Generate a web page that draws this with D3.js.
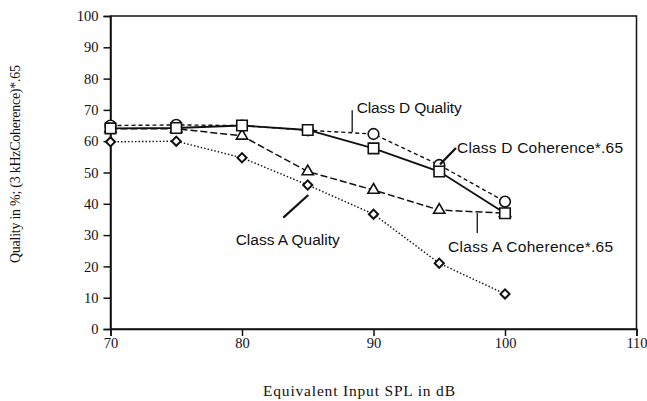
<!DOCTYPE html>
<html>
<head>
<meta charset="utf-8">
<script src="https://cdn.jsdelivr.net/npm/d3@7"></script>
<style>
  html, body { margin: 0; padding: 0; background: #fff; }
  svg { display: block; }
</style>
</head>
<body>
<svg id="chart" width="647" height="401"></svg>
<script>
// Input level (dB SPL) at which each measurement was taken
const splLevels = [70, 75, 80, 85, 90, 95, 100];

// Series values (percent)
const classDQuality   = [65.0, 65.2, 65.0, 63.5, 62.3, 52.4, 40.7];
const classDCoherence = [64.1, 64.2, 65.0, 63.6, 57.7, 50.3, 37.0];
const classACoherence = [64.0, 64.0, 61.7, 50.3, 44.4, 38.0, 37.0];
const classAQuality   = [59.8, 60.0, 54.7, 46.0, 36.7, 21.0, 11.2];

// Axis ticks
const xTicks = [70, 80, 90, 100, 110];
const yTicks = [0, 10, 20, 30, 40, 50, 60, 70, 80, 90, 100];

// Callout labels (text anchor and leader line, in data units)
const calloutText  = ["Class D Quality", "Class D Coherence*.65", "Class A Coherence*.65", "Class A Quality"];
const calloutAt    = [[88.72, 69.0], [96.35, 56.1], [95.67, 24.7], [79.52, 26.8]];
const calloutWidth = [105, 166, 165, 104];
const leaderFrom   = [[88.38, 69.9], [96.27, 57.8], [97.89, 37.1], [85.04, 42.8]];
const leaderTo     = [[88.38, 62.9], [95.06, 52.6], [97.89, 30.7], [83.14, 35.6]];

const svg = d3.select("#chart");

const x = d3.scaleLinear().domain([70, 110]).range([110.5, 636.5]);
const y = d3.scaleLinear().domain([0, 100]).range([329, 16]);

const serif = "'Liberation Serif', 'Times New Roman', serif";
const sans = "'Liberation Sans', Arial, Helvetica, sans-serif";

// Plot frame
svg.append("rect")
  .attr("x", x(70)).attr("y", y(100))
  .attr("width", x(110) - x(70)).attr("height", y(0) - y(100))
  .attr("fill", "none").attr("stroke", "#111").attr("stroke-width", 1.5);

// Left axis
const yAxis = svg.append("g")
  .attr("transform", `translate(${x(70)},0)`)
  .call(d3.axisLeft(y).tickValues(yTicks).tickSize(7).tickPadding(5).tickFormat(d3.format("d")));
yAxis.select(".domain").attr("stroke", "#111").attr("stroke-width", 1.5);
yAxis.selectAll(".tick line").attr("stroke", "#111").attr("stroke-width", 1.5);
yAxis.selectAll(".tick text").attr("font-family", serif).attr("font-size", 14.5).attr("fill", "#111");

// Bottom axis
const xAxis = svg.append("g")
  .attr("transform", `translate(0,${y(0)})`)
  .call(d3.axisBottom(x).tickValues(xTicks).tickSize(7).tickPadding(2).tickFormat(d3.format("d")));
xAxis.select(".domain").attr("stroke", "#111").attr("stroke-width", 1.5);
xAxis.selectAll(".tick line").attr("stroke", "#111").attr("stroke-width", 1.5);
xAxis.selectAll(".tick text").attr("font-family", serif).attr("font-size", 14.5).attr("fill", "#111");

// Axis titles
svg.append("text")
  .attr("x", 263).attr("y", 396)
  .attr("font-family", serif).attr("font-size", 15.5).attr("fill", "#111")
  .attr("textLength", 192).attr("lengthAdjust", "spacing")
  .text("Equivalent Input SPL in dB");

svg.append("text")
  .attr("transform", "translate(20,263) rotate(-90)")
  .attr("font-family", serif).attr("font-size", 14).attr("fill", "#111")
  .attr("textLength", 198).attr("lengthAdjust", "spacing")
  .text("Quality in %; (3 kHzCoherence)*.65");

// Series definitions: line dash and marker shape
const series = [
  { values: classAQuality,   dash: "1.5,2",  width: 1.4, shape: "diamond" },
  { values: classACoherence, dash: "7,3",    width: 1.5, shape: "triangle" },
  { values: classDQuality,   dash: "4,3",    width: 1.4, shape: "circle" },
  { values: classDCoherence, dash: null,     width: 1.9, shape: "square" }
];

const line = d3.line().x(d => x(d[0])).y(d => y(d[1]));

series.forEach(s => {
  const pts = splLevels.map((l, i) => [l, s.values[i]]);
  svg.append("path")
    .attr("d", line(pts))
    .attr("fill", "none")
    .attr("stroke", "#111")
    .attr("stroke-width", s.width)
    .attr("stroke-dasharray", s.dash);
});

const symbolFor = {
  circle:   d3.symbol().type(d3.symbolCircle).size(90),
  square:   d3.symbol().type(d3.symbolSquare).size(110),
  triangle: d3.symbol().type(d3.symbolTriangle).size(55),
  diamond:  d3.symbol().type(d3.symbolSquare).size(42)
};

series.forEach(s => {
  svg.append("g").selectAll("path")
    .data(splLevels.map((l, i) => [l, s.values[i]]))
    .join("path")
    .attr("d", symbolFor[s.shape]())
    .attr("transform", d => `translate(${x(d[0])},${y(d[1])})` + (s.shape === "diamond" ? " rotate(45)" : ""))
    .attr("fill", "#fff")
    .attr("stroke", "#111")
    .attr("stroke-width", s.shape === "diamond" ? 2 : 1.6);
});

// Callout labels with leader lines
calloutText.forEach((t, i) => {
  svg.append("line")
    .attr("x1", x(leaderFrom[i][0])).attr("y1", y(leaderFrom[i][1]))
    .attr("x2", x(leaderTo[i][0])).attr("y2", y(leaderTo[i][1]))
    .attr("stroke", "#111").attr("stroke-width", i % 2 === 1 ? 2.2 : 1.3);
  svg.append("text")
    .attr("x", x(calloutAt[i][0])).attr("y", y(calloutAt[i][1]))
    .attr("font-family", sans).attr("font-size", 15.5).attr("fill", "#111")
    .attr("textLength", calloutWidth[i]).attr("lengthAdjust", "spacing")
    .text(t);
});
</script>
</body>
</html>
